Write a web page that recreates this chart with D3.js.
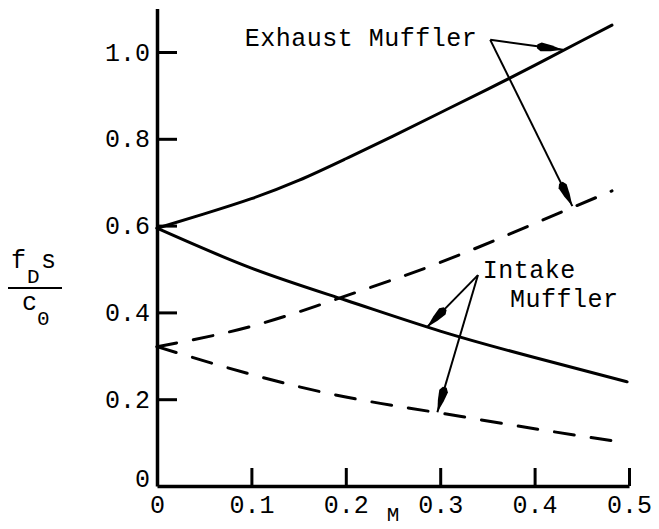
<!DOCTYPE html>
<html>
<head>
<meta charset="utf-8">
<script src="https://cdn.jsdelivr.net/npm/d3@7"></script>
<style>
  html, body { margin: 0; padding: 0; background: #fff; }
  svg { display: block; }
  text { font-family: "Liberation Mono", "DejaVu Sans Mono", monospace; fill: #000; }
</style>
</head>
<body>
<svg id="chart" width="659" height="529"></svg>
<script>
// Mach number ticks and frequency-parameter ticks
const xTicks = [0, 0.1, 0.2, 0.3, 0.4, 0.5];
const xTickLabels = ["0", "0.1", "0.2", "0.3", "0.4", "0.5"];
const yTicks = [0, 0.2, 0.4, 0.6, 0.8, 1.0];
const yTickLabels = ["0", "0.2", "0.4", "0.6", "0.8", "1.0"];

// Exhaust muffler, solid curve
const exhaustSolidM = [0, 0.05, 0.1, 0.15, 0.2, 0.25, 0.3, 0.35, 0.4, 0.45, 0.482];
const exhaustSolidF = [0.594, 0.627, 0.662, 0.704, 0.754, 0.806, 0.860, 0.914, 0.969, 1.026, 1.062];
// Exhaust muffler, dashed curve
const exhaustDashM = [0, 0.1, 0.2, 0.3, 0.4, 0.482];
const exhaustDashF = [0.321, 0.368, 0.438, 0.515, 0.605, 0.680];
// Intake muffler, solid curve
const intakeSolidM = [0, 0.1, 0.2, 0.3, 0.4, 0.498];
const intakeSolidF = [0.594, 0.502, 0.428, 0.357, 0.296, 0.240];
// Intake muffler, dashed curve
const intakeDashM = [0, 0.1, 0.2, 0.3, 0.4, 0.49];
const intakeDashF = [0.321, 0.257, 0.205, 0.168, 0.132, 0.102];

// Annotation callouts: label anchor (apex) and arrow targets, in data units
const exhaustApex = [0.353, 1.028];
const exhaustTargets = [[0.43, 1.005], [0.44, 0.645]];
const intakeApex = [0.340, 0.486];
const intakeTargets = [[0.286, 0.366], [0.297, 0.170]];

const svg = d3.select("#chart");
const x = d3.scaleLinear().domain([0, 0.5]).range([157, 629]);
const y = d3.scaleLinear().domain([0, 1.1]).range([486, 8.6]);

const FONT = 25;

// Axes
const xAxis = d3.axisBottom(x)
  .tickValues(xTicks)
  .tickFormat((d, i) => xTickLabels[i])
  .tickSizeInner(-18).tickSizeOuter(0).tickPadding(9);
const yAxis = d3.axisLeft(y)
  .tickValues(yTicks)
  .tickFormat((d, i) => yTickLabels[i])
  .tickSizeInner(-20).tickSizeOuter(0).tickPadding(7);

const gx = svg.append("g").attr("transform", `translate(0,${y(0)})`).call(xAxis);
const gy = svg.append("g").attr("transform", `translate(${x(0)},0)`).call(yAxis);

[gx, gy].forEach(g => {
  g.select(".domain").attr("stroke", "#000").attr("stroke-width", 3.5);
  g.selectAll(".tick line").attr("stroke", "#000").attr("stroke-width", 3);
  g.selectAll(".tick text").attr("font-size", FONT)
    .attr("font-family", "Liberation Mono, DejaVu Sans Mono, monospace").attr("fill", "#000");
});
gy.selectAll(".tick").filter(d => d === 0).select("line").remove();
gy.selectAll(".tick").filter(d => d === 0).select("text").attr("dy", "0.0em");
gx.selectAll(".tick").filter(d => d === 0).select("line").remove();

// M axis title
svg.append("text")
  .attr("x", x(0.25)).attr("y", 521)
  .attr("text-anchor", "middle").attr("font-size", 21)
  .text("M");

// Y axis title: f_D s / c_0
const yl = svg.append("g");
yl.append("text").attr("x", 11).attr("y", 268).attr("font-size", FONT).text("f");
yl.append("text").attr("x", 27).attr("y", 283).attr("font-size", 21).text("D");
yl.append("text").attr("x", 41).attr("y", 268).attr("font-size", FONT).text("s");
yl.append("line").attr("x1", 8).attr("x2", 62).attr("y1", 288).attr("y2", 288)
  .attr("stroke", "#000").attr("stroke-width", 2);
yl.append("text").attr("x", 22).attr("y", 310).attr("font-size", FONT).text("c");
yl.append("text").attr("x", 37).attr("y", 325).attr("font-size", 21).text("0");

// Curves
const line = d3.line().x(d => x(d[0])).y(d => y(d[1])).curve(d3.curveNatural);
const series = [
  { m: exhaustSolidM, f: exhaustSolidF, dash: null },
  { m: intakeSolidM, f: intakeSolidF, dash: null },
  { m: exhaustDashM, f: exhaustDashF, dash: "20,17" },
  { m: intakeDashM, f: intakeDashF, dash: "20,17" }
];
series.forEach(s => {
  svg.append("path")
    .datum(d3.zip(s.m, s.f))
    .attr("d", line)
    .attr("fill", "none")
    .attr("stroke", "#000")
    .attr("stroke-width", 3)
    .attr("stroke-linecap", "round")
    .attr("stroke-dasharray", s.dash);
});

// Arrowhead marker
svg.append("defs").append("marker")
  .attr("id", "head")
  .attr("markerUnits", "userSpaceOnUse")
  .attr("viewBox", "-28 -6 30 12")
  .attr("refX", 0).attr("refY", 0)
  .attr("markerWidth", 30).attr("markerHeight", 12)
  .attr("orient", "auto")
  .append("path")
  .attr("d", "M0,0 L-12,-3 L-22,-4.5 L-26,-2 L-26,2 L-22,4.5 L-12,3 Z")
  .attr("fill", "#000");

function callout(apex, targets) {
  targets.forEach(t => {
    svg.append("line")
      .attr("x1", x(apex[0])).attr("y1", y(apex[1]))
      .attr("x2", x(t[0])).attr("y2", y(t[1]))
      .attr("stroke", "#000").attr("stroke-width", 2)
      .attr("marker-end", "url(#head)");
  });
}
callout(exhaustApex, exhaustTargets);
callout(intakeApex, intakeTargets);

// Callout labels
const labelStyle = t => t.attr("font-size", FONT).attr("letter-spacing", 0.5);
svg.append("text").attr("x", x(0.093)).attr("y", 46).call(labelStyle).text("Exhaust Muffler");
svg.append("text").attr("x", x(0.345)).attr("y", 278).call(labelStyle).text("Intake");
svg.append("text").attr("x", x(0.374)).attr("y", 307).call(labelStyle).text("Muffler");
</script>
</body>
</html>
